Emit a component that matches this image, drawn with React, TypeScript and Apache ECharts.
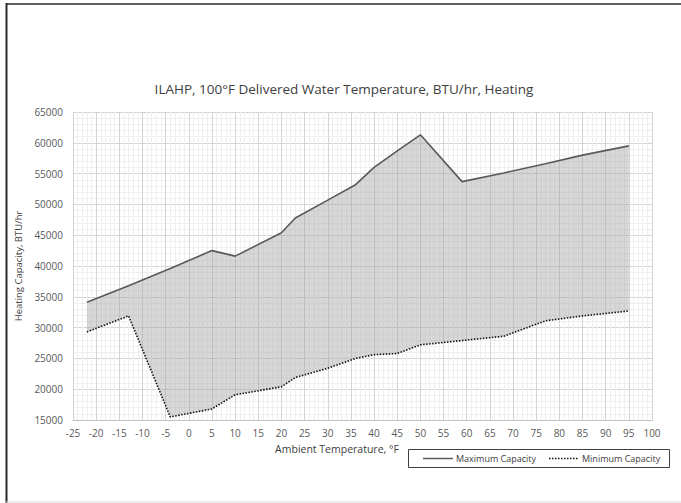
import React, { useEffect, useRef } from "react";
import * as echarts from "echarts";

const titleText = "ILAHP, 100°F Delivered Water Temperature, BTU/hr, Heating";
const xAxisName = "Ambient Temperature, °F";
const yAxisName = "Heating Capacity, BTU/hr";
const seriesNames = ["Maximum Capacity", "Minimum Capacity"];

const tempF = [-22, -13, -4, 5, 10, 20, 23, 30, 36, 40, 45, 50, 59, 68, 77, 85, 95];
const maxCap = [34100, 36800, 39600, 42500, 41600, 45400, 47800, 50700, 53200, 56000, 58700, 61300, 53700, 55100, 56600, 58000, 59500];
const minCap = [29300, 31900, 15500, 16800, 19100, 20400, 21900, 23400, 25000, 25600, 25800, 27200, 27900, 28600, 31100, 31900, 32700];

const FONT = "'Open Sans', 'Noto Sans', sans-serif";
const MAX_COLOR = "#595959";
const MIN_COLOR = "#111111";

export default function App() {
  const ref = useRef<HTMLDivElement>(null);
  useEffect(() => {
    if (!ref.current) return;
    const chart = echarts.init(ref.current, null, { renderer: "svg" });
    const maxPts = tempF.map((t, i) => [t, maxCap[i]]);
    const minPts = tempF.map((t, i) => [t, minCap[i]]);
    chart.setOption({
      animation: false,
      backgroundColor: "#ffffff",
      textStyle: { fontFamily: FONT },
      title: {
        text: titleText,
        left: 339,
        textAlign: "center",
        top: 77,
        textStyle: { fontFamily: FONT, fontSize: 13.5, fontWeight: "normal", color: "#404040" },
      },
      grid: { left: 73, right: 29, top: 112, bottom: 83, containLabel: false },
      xAxis: {
        type: "value",
        min: -25,
        max: 100,
        interval: 5,
        axisLine: { show: true, lineStyle: { color: "#bfbfbf", width: 1 } },
        axisTick: { show: false },
        minorTick: { show: false, splitNumber: 5 },
        axisLabel: { color: "#595959", fontSize: 10, margin: 8, fontFamily: FONT },
        splitLine: { show: true, lineStyle: { color: "#d4d4d4", width: 1 } },
        minorSplitLine: { show: true, lineStyle: { color: "#efefef", width: 1 } },
      },
      yAxis: {
        type: "value",
        min: 15000,
        max: 65000,
        interval: 5000,
        name: yAxisName,
        nameLocation: "middle",
        nameGap: 45,
        nameTextStyle: { color: "#404040", fontSize: 9.5, fontFamily: FONT },
        axisLine: { show: false },
        axisTick: { show: false },
        minorTick: { show: false, splitNumber: 5 },
        axisLabel: {
          color: "#595959",
          fontSize: 10,
          margin: 10,
          fontFamily: FONT,
          formatter: (v: number) => String(v),
        },
        splitLine: { show: true, lineStyle: { color: "#d4d4d4", width: 1 } },
        minorSplitLine: { show: true, lineStyle: { color: "#efefef", width: 1 } },
      },
      graphic: [
        {
          type: "text",
          x: 337,
          y: 449,
          style: {
            text: xAxisName,
            fill: "#404040",
            font: `10.5px ${FONT}`,
            align: "center",
            verticalAlign: "middle",
          },
        },
        { type: "line", shape: { x1: 6.5, y1: 3, x2: 6.5, y2: 503 }, style: { stroke: "#2b2b2b", lineWidth: 2 } },
        { type: "line", shape: { x1: 6, y1: 4, x2: 681, y2: 4 }, style: { stroke: "#2b2b2b", lineWidth: 1.5 } },
        { type: "line", shape: { x1: 6, y1: 502, x2: 681, y2: 502 }, style: { stroke: "#d9d9d9", lineWidth: 1 } },
        // legend box
        {
          type: "rect",
          shape: { x: 408.5, y: 449.5, width: 261, height: 18 },
          style: { fill: "#ffffff", stroke: "#404040", lineWidth: 1 },
        },
        {
          type: "line",
          shape: { x1: 423, y1: 458.5, x2: 453, y2: 458.5 },
          style: { stroke: MAX_COLOR, lineWidth: 1.5 },
        },
        {
          type: "text",
          x: 456,
          y: 458.5,
          style: { text: seriesNames[0], fill: "#404040", font: `9px ${FONT}`, verticalAlign: "middle" },
        },
        {
          type: "line",
          shape: { x1: 549, y1: 458.5, x2: 578, y2: 458.5 },
          style: { stroke: MIN_COLOR, lineWidth: 1.5, lineDash: [1.5, 1.5] },
        },
        {
          type: "text",
          x: 582,
          y: 458.5,
          style: { text: seriesNames[1], fill: "#404040", font: `9px ${FONT}`, verticalAlign: "middle" },
        },
      ],
      series: [
        {
          type: "custom",
          name: "band",
          silent: true,
          z: 1,
          data: [[tempF[0], maxCap[0]]],
          renderItem: (_params: any, api: any) => {
            const pts = maxPts
              .map((p) => api.coord(p))
              .concat(minPts.slice().reverse().map((p) => api.coord(p)));
            return {
              type: "polygon",
              shape: { points: pts },
              style: { fill: "rgba(160,160,160,0.42)", stroke: "none" },
            };
          },
        },
        {
          type: "line",
          name: seriesNames[0],
          data: maxPts,
          showSymbol: false,
          symbol: "none",
          z: 3,
          lineStyle: { color: MAX_COLOR, width: 1.6, type: "solid" },
          itemStyle: { color: MAX_COLOR },
        },
        {
          type: "line",
          name: seriesNames[1],
          data: minPts,
          showSymbol: false,
          symbol: "none",
          z: 3,
          lineStyle: { color: MIN_COLOR, width: 1.6, type: [1.5, 1.5] },
          itemStyle: { color: MIN_COLOR },
        },
      ],
    });
    return () => chart.dispose();
  }, []);
  return <div ref={ref} style={{ position: "fixed", left: 0, top: 0, width: 681, height: 503 }} />;
}
